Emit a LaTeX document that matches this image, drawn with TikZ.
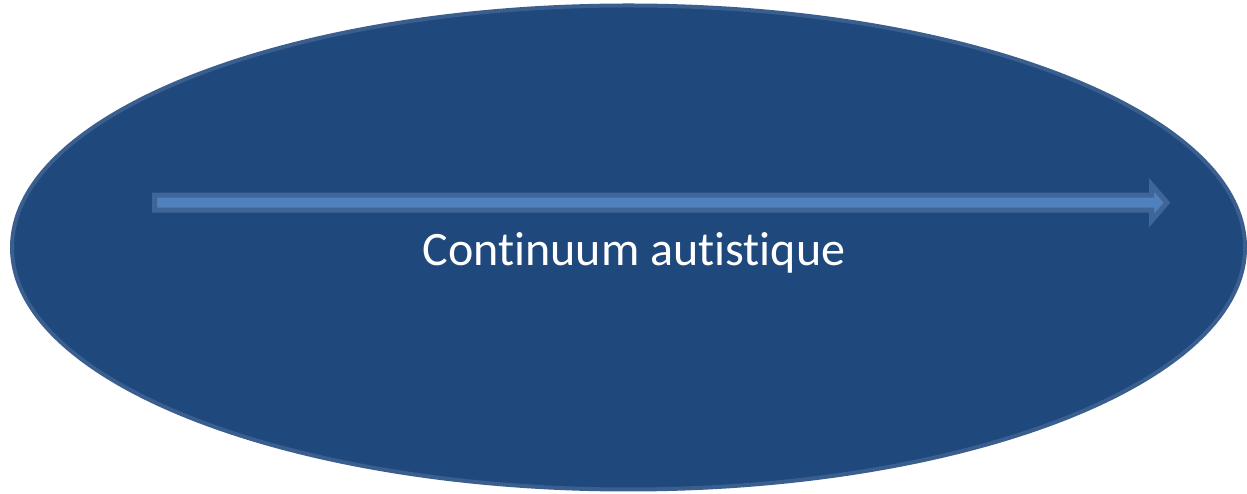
\documentclass[tikz,border=0pt]{standalone}
\usepackage{fontspec}
\setmainfont[Ligatures=NoCommon]{Carlito}
\begin{document}
\begin{tikzpicture}[x=1pt,y=1pt]
\definecolor{fillColor}{RGB}{255,255,255}
\path[use as bounding box,fill=fillColor] (0,0) rectangle (1247,494);
\begin{scope}
\definecolor{fillColor}{RGB}{31,73,125}
\definecolor{drawColor}{RGB}{58,94,142}

\path[fill=fillColor,draw=drawColor,line width= 4pt] (628.50,246.50) ellipse (616.50 and 242.00);
\end{scope}
\begin{scope}
\definecolor{fillColor}{RGB}{79,129,189}
\definecolor{drawColor}{RGB}{64,101,151}

\path[fill=fillColor,draw=drawColor,line width= 5pt,line join=miter] (154.50,283.80) --
	(1151.50,283.80) -- (1151.50,273.30) -- (1167.00,291.30) --
	(1151.50,309.30) -- (1151.50,298.80) -- (154.50,298.80) -- cycle;
\end{scope}
\begin{scope}
\definecolor{drawColor}{RGB}{255,255,255}

\node[text=drawColor,anchor=base,inner sep=0pt, outer sep=0pt, font=\fontsize{48}{58}\selectfont] (label) at (634.00,228.00) {Continuum autistique};
\end{scope}
\end{tikzpicture}
\end{document}
